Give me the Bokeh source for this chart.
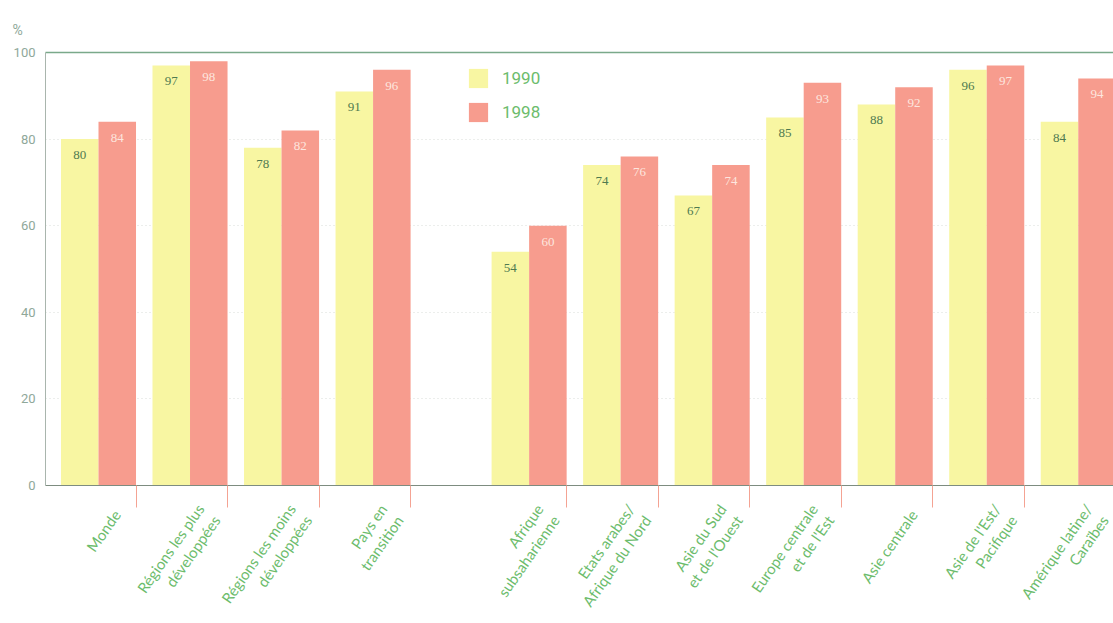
import numpy as np
from bokeh.plotting import figure
from bokeh.models import (ColumnDataSource, Range1d, LinearAxis, FixedTicker,
                          LabelSet, Legend, LegendItem)
from bokeh.embed import file_html
from bokeh.resources import INLINE

regions = ["Monde", "Régions les plus\ndéveloppées", "Régions les moins\ndéveloppées",
           "Pays en\ntransition", "Afrique\nsubsaharienne", "Etats arabes/\nAfrique du Nord",
           "Asie du Sud\net de l'Ouest", "Europe centrale\net de l'Est", "Asie centrale",
           "Asie de l'Est/\nPacifique", "Amérique latine/\nCaraïbes"]
section = [0, 0, 0, 0, 1, 1, 1, 1, 1, 1, 1]
v1990 = [80, 97, 78, 91, 54, 74, 67, 85, 88, 96, 84]
v1998 = [84, 98, 82, 96, 60, 76, 74, 93, 92, 97, 94]
yticks = [0, 20, 40, 60, 80, 100]

GAP = 0.705
BW = 0.41
xs = np.arange(len(regions)) + GAP * np.array(section)

YELLOW = "#f8f6a2"
SALMON = "#f79c8e"
GREEN = "#6cbc6c"
GREY = "#8fa89a"
NUMFONT = "Roboto"

src = ColumnDataSource(dict(
    x90=xs - BW / 2, x98=xs + BW / 2, v90=v1990, v98=v1998,
    t90=[str(v) for v in v1990], t98=[str(v) for v in v1998],
))

p = figure(frame_width=1068, frame_height=433, output_backend="svg", toolbar_location=None,
           x_range=Range1d(-0.579, 11.09), y_range=Range1d(0, 100),
           min_border_left=45, min_border_right=0, min_border_top=52,
           min_border_bottom=138, background_fill_color="white",
           border_fill_color="white", outline_line_color=None,
           title="%")
p.title.align = "left"
p.title.offset = -33
p.title.text_font = NUMFONT
p.title.text_font_size = "14px"
p.title.text_font_style = "normal"
p.title.text_color = GREY
p.title.standoff = 30
p.xaxis.visible = False
p.xgrid.visible = False

r90 = p.vbar(x="x90", top="v90", width=BW, source=src, fill_color=YELLOW, line_color=None)
r98 = p.vbar(x="x98", top="v98", width=BW, source=src, fill_color=SALMON, line_color=None)

# y axis
ya = p.yaxis[0]
ya.ticker = FixedTicker(ticks=yticks)
ya.axis_line_color = "#a9b5ad"
ya.major_tick_line_color = None
ya.major_tick_out = 0
ya.minor_tick_line_color = None
ya.major_label_text_font = NUMFONT
ya.major_label_text_font_size = "13px"
ya.major_label_text_color = GREY
ya.major_label_standoff = 10
p.ygrid.ticker = FixedTicker(ticks=yticks[1:-1])
p.ygrid.grid_line_color = "#d9ddd9"
p.ygrid.grid_line_dash = "1 3"

# top line
top = LinearAxis(ticker=FixedTicker(ticks=[]), axis_line_color="#7aa98a",
                 axis_line_width=1.5, major_tick_line_color=None,
                 minor_tick_line_color=None)
p.add_layout(top, "above")

# bottom axis: labels at major ticks, salmon separators as minor ticks
lab_pos = [float(v) for v in xs + 0.2]
bot = LinearAxis(ticker=FixedTicker(ticks=lab_pos, minor_ticks=[float(v) for v in xs + BW]),
                 axis_line_color="#7d8c80", axis_line_width=1.2,
                 major_tick_line_color=None, major_tick_out=0, major_tick_in=0,
                 minor_tick_line_color="#f4a393", minor_tick_out=22, minor_tick_in=0,
                 major_label_overrides={v: t for v, t in zip(lab_pos, regions)},
                 major_label_orientation=np.deg2rad(55), major_label_standoff=4,
                 major_label_text_font="Lato", major_label_text_font_size="15px",
                 major_label_text_color=GREEN, major_label_text_line_height=1.1)
p.add_layout(bot, "below")

# value labels
p.add_layout(LabelSet(x="x90", y="v90", text="t90", source=src, text_align="center",
                      text_baseline="top", y_offset=-12, text_font=NUMFONT,
                      text_font_size="13px", text_color="#4f7a50"))
p.add_layout(LabelSet(x="x98", y="v98", text="t98", source=src, text_align="center",
                      text_baseline="top", y_offset=-12, text_font=NUMFONT,
                      text_font_size="13px", text_color="#fde6df"))

legend = Legend(items=[LegendItem(label="1990", renderers=[r90]),
                       LegendItem(label="1998", renderers=[r98])],
                location=(421, 361), glyph_width=24, glyph_height=24,
                label_height=22, spacing=10, label_standoff=12, padding=0,
                border_line_color=None, background_fill_alpha=0,
                label_text_font=NUMFONT, label_text_font_size="17px",
                label_text_color=GREEN)
p.add_layout(legend)

open("out.html", "w").write(file_html(p, INLINE))
